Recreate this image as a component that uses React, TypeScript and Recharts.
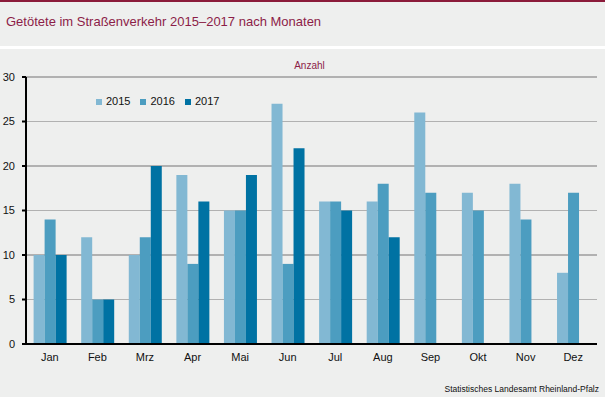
import React from 'react';
import { BarChart, Bar, XAxis, YAxis, CartesianGrid, Legend } from 'recharts';

const months = ['Jan', 'Feb', 'Mrz', 'Apr', 'Mai', 'Jun', 'Jul', 'Aug', 'Sep', 'Okt', 'Nov', 'Dez'];
const values2015 = [10, 12, 10, 19, 15, 27, 16, 16, 26, 17, 18, 8];
const values2016 = [14, 5, 12, 9, 15, 9, 16, 18, 17, 15, 14, 17];
const values2017: (number | null)[] = [10, 5, 20, 16, 19, 22, 15, 12, null, null, null, null];
const yTicks = [0, 5, 10, 15, 20, 25, 30];
const minorGrid = [5, 15, 25];
const majorGrid = [10, 20, 30];
const boundaryTicks = [0, 1, 2, 3, 4, 5, 6, 7, 8, 9, 10, 11, 12];

const data = months.map((m, i) => ({
  month: m,
  y2015: values2015[i],
  y2016: values2016[i],
  y2017: values2017[i],
}));

const FONT = '"Liberation Sans", Arial, sans-serif';
const BG = '#EEEFEE';
const TITLE_COLOR = '#8C1D48';

export default function App() {
  return (
    <div style={{ position: 'absolute', left: 0, top: 0, width: 605, height: 397, background: '#fff', fontFamily: FONT, overflow: 'hidden' }}>
      <style>{`body{margin:0}`}</style>
      <div style={{ position: 'absolute', left: 0, top: 0, width: 605, height: 2, background: '#8B1B3A' }} />
      <div style={{ position: 'absolute', left: 0, top: 2, width: 605, height: 44, background: BG }}>
        <div style={{ position: 'absolute', left: 6, top: 12, fontSize: 13, color: TITLE_COLOR, whiteSpace: 'nowrap' }}>
          Getötete im Straßenverkehr 2015–2017 nach Monaten
        </div>
      </div>
      <div style={{ position: 'absolute', left: 0, top: 49, width: 605, height: 348, background: BG }}>
        <BarChart
          width={605}
          height={348}
          data={data}
          margin={{ top: 14, right: 8, bottom: 0, left: 0 }}
          barCategoryGap="16%"
          barGap={0}
        >
          <CartesianGrid yAxisId="y" xAxisId="cat" vertical={false} horizontalValues={minorGrid} stroke="#B1B1B1" strokeWidth={1} />
          <CartesianGrid yAxisId="y" xAxisId="cat" vertical={false} horizontalValues={majorGrid} stroke="#B1B1B1" strokeWidth={2} />
          <XAxis
            xAxisId="num"
            type="number"
            domain={[0, 12]}
            ticks={boundaryTicks}
            height={0}
            axisLine={false}
            tickLine={{ stroke: '#000', strokeWidth: 2 }}
            tickSize={5}
            tickFormatter={() => ''}
            allowDataOverflow
          />
          <XAxis
            xAxisId="cat"
            dataKey="month"
            height={53}
            tickSize={0}
            tickLine={false}
            tickMargin={9}
            axisLine={{ stroke: '#000', strokeWidth: 2 }}
            tick={{ fontSize: 11, fill: '#111', fontFamily: FONT }}
            interval={0}
          />
          <YAxis
            yAxisId="y"
            domain={[0, 30]}
            ticks={yTicks}
            width={26}
            tickSize={4}
            tickMargin={7}
            axisLine={{ stroke: '#000', strokeWidth: 2 }}
            tickLine={{ stroke: '#000', strokeWidth: 2 }}
            tick={{ fontSize: 11, fill: '#111', fontFamily: FONT }}
            interval={0}
          />
          <Legend
            layout="horizontal"
            align="left"
            verticalAlign="top"
            iconType="square"
            iconSize={6}
            wrapperStyle={{ top: 45, left: 96, width: 'auto', fontSize: 11, fontFamily: FONT, lineHeight: '14px' }}
            formatter={(value: string) => <span style={{ color: '#111' }}>{value}</span>}
          />
          <Bar xAxisId="cat" yAxisId="y" dataKey="y2015" name="2015" fill="#82B8D3" isAnimationActive={false} />
          <Bar xAxisId="cat" yAxisId="y" dataKey="y2016" name="2016" fill="#4C9DC0" isAnimationActive={false} />
          <Bar xAxisId="cat" yAxisId="y" dataKey="y2017" name="2017" fill="#0072A3" isAnimationActive={false} />
        </BarChart>
        <div style={{ position: 'absolute', left: 0, width: 605, top: 11, textAlign: 'center', paddingLeft: 14, boxSizing: 'border-box', fontSize: 10, color: TITLE_COLOR }}>
          Anzahl
        </div>
        <div style={{ position: 'absolute', right: 6, top: 335, fontSize: 8.5, color: '#111', whiteSpace: 'nowrap' }}>
          Statistisches Landesamt Rheinland-Pfalz
        </div>
      </div>
    </div>
  );
}
